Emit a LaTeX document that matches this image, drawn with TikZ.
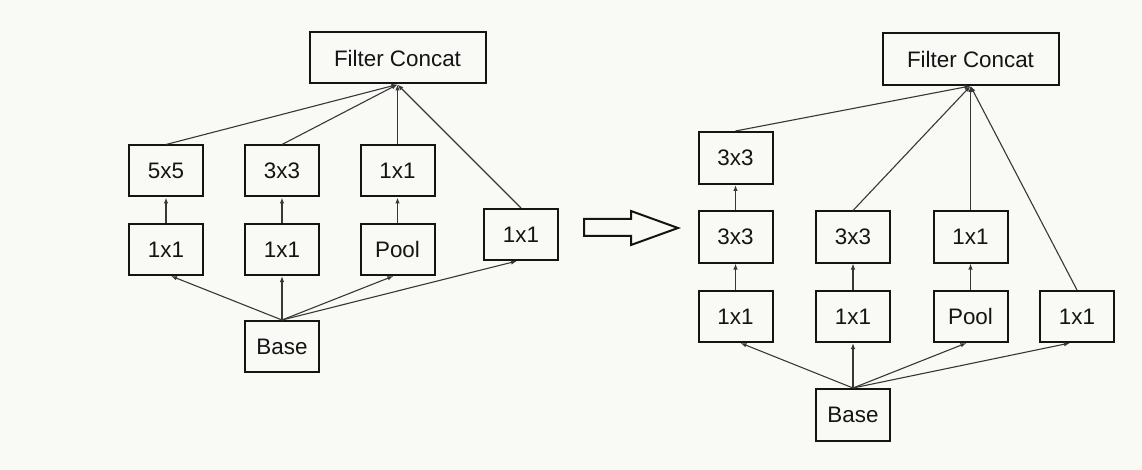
\documentclass[tikz,border=0pt]{standalone}
\usepackage{fontspec}
\setmainfont{Liberation Sans}
\usetikzlibrary{arrows.meta}
\definecolor{bg}{RGB}{249,249,246}
\definecolor{ink}{RGB}{20,20,20}
\tikzset{
  box/.style={draw=ink, line width=2pt, fill=none, minimum width=74pt, minimum height=51pt,
    inner sep=0pt, text=ink, font=\fontsize{22.4}{26}\selectfont},
  wide/.style={minimum width=176pt},
  conn/.style={draw=ink!85, line width=1.1pt, -{Latex[length=6pt,width=4.5pt]}},
}
\begin{document}
\begin{tikzpicture}[x=1pt,y=-1pt]
\fill[bg] (0,0) rectangle (1142,470);
\useasboundingbox (0,0) rectangle (1142,470);
% ---------- left ----------
\node[box,wide] (LFC) at (397.5,58) {Filter Concat};
\node[box] (L5) at (166,171) {5x5};
\node[box] (L3) at (282,171) {3x3};
\node[box] (L1t) at (397.5,171) {1x1};
\node[box] (La) at (166,249.5) {1x1};
\node[box] (Lb) at (282,249.5) {1x1};
\node[box] (Lp) at (397.5,249.5) {Pool};
\node[box] (Lr) at (521,234.5) {1x1};
\node[box] (LB) at (282,346.5) {Base};
\draw[conn] (L5.north) -- (LFC.south);
\draw[conn] (L3.north) -- (LFC.south);
\draw[conn] (L1t.north) -- (LFC.south);
\draw[conn] (Lr.north) -- (LFC.south);
\draw[conn] (La.north) -- (L5.south);
\draw[conn] (Lb.north) -- (L3.south);
\draw[conn] (Lp.north) -- (L1t.south);
\draw[conn] (LB.north) -- ([xshift=5pt]La.south);
\draw[conn] (LB.north) -- (Lb.south);
\draw[conn] (LB.north) -- ([xshift=-4pt]Lp.south);
\draw[conn] (LB.north) -- ([xshift=-4pt]Lr.south);
% ---------- big arrow ----------
\draw[ink, line width=2pt, line join=miter] (584,219) -- (631,219) -- (631,211) -- (678,228) -- (631,245) -- (631,236) -- (584,236) -- cycle;
% ---------- right ----------
\node[box,wide,minimum height=52pt] (RFC) at (970.5,59) {Filter Concat};
\node[box,minimum height=52pt] (Rt) at (735.5,158) {3x3};
\node[box] (Rm1) at (735.5,237) {3x3};
\node[box] (Rm2) at (853,237) {3x3};
\node[box] (Rm3) at (970.5,237) {1x1};
\node[box] (Rb1) at (735.5,316.5) {1x1};
\node[box] (Rb2) at (853,316.5) {1x1};
\node[box] (Rb3) at (970.5,316.5) {Pool};
\node[box] (Rb4) at (1077,316.5) {1x1};
\node[box,minimum height=52pt] (RB) at (853,415) {Base};
\draw[conn] (Rt.north) -- (RFC.south);
\draw[conn] (Rm2.north) -- (RFC.south);
\draw[conn] (Rm3.north) -- (RFC.south);
\draw[conn] (Rb4.north) -- (RFC.south);
\draw[conn] (Rm1.north) -- (Rt.south);
\draw[conn] (Rb1.north) -- (Rm1.south);
\draw[conn] (Rb2.north) -- (Rm2.south);
\draw[conn] (Rb3.north) -- (Rm3.south);
\draw[conn] (RB.north) -- ([xshift=5pt]Rb1.south);
\draw[conn] (RB.north) -- (Rb2.south);
\draw[conn] (RB.north) -- ([xshift=-4pt]Rb3.south);
\draw[conn] (RB.north) -- ([xshift=-7pt]Rb4.south);
\end{tikzpicture}
\end{document}
